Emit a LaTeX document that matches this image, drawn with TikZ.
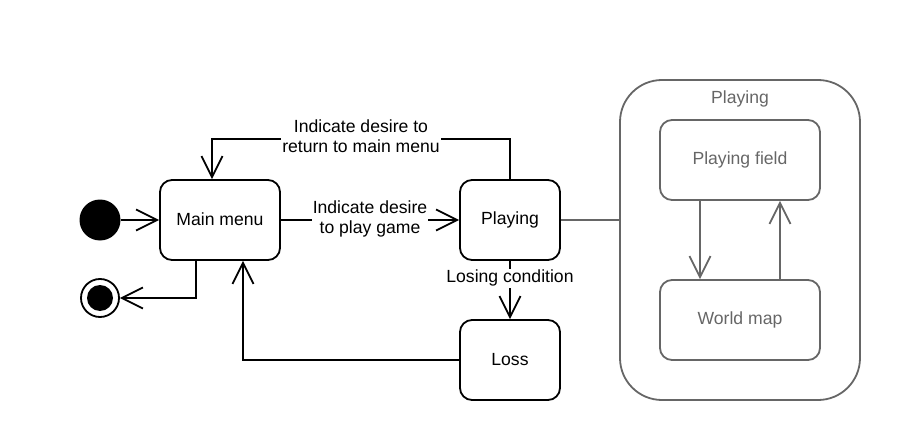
\documentclass[tikz,border=0pt]{standalone}
\usepackage{fontspec}
\setmainfont{Liberation Sans}
\usetikzlibrary{arrows.meta,positioning}
\definecolor{gline}{RGB}{102,102,102}
\begin{document}
\begin{tikzpicture}[x=1pt,y=1pt,
  every node/.style={font=\fontsize{17.6}{20}\selectfont},
  state/.style={draw=black,line width=1.8pt,rounded corners=12pt,minimum width=120pt,minimum height=80pt,inner sep=0pt,fill=white},
  gstate/.style={draw=gline,line width=1.8pt,rounded corners=12pt,minimum width=160pt,minimum height=80pt,inner sep=0pt,text=gline},
  conn/.style={line width=1.8pt,-{Straight Barb[length=21pt,width=21pt,line width=1.8pt]}},
  gconn/.style={conn,draw=gline},
  lbl/.style={fill=white,align=center,inner sep=1pt}]
\useasboundingbox (0,0) rectangle (900,440);
% nodes
\node[circle,fill=black,minimum size=41pt,inner sep=0pt] (init) at (100,220) {};
\node[circle,draw=black,line width=1.8pt,minimum size=38pt,inner sep=0pt] (final) at (100,142) {};
\node[circle,fill=black,minimum size=26pt,inner sep=0pt] (finalin) at (100,142) {};
\node[state] (main) at (220,220) {\raisebox{2pt}{Main menu}};
\node[state,minimum width=100pt] (play) at (510,220) {\raisebox{2pt}{Playing}};
\node[state,minimum width=100pt] (loss) at (510,80) {\raisebox{2pt}{Loss}};
\node[draw=gline,line width=1.8pt,rounded corners=42pt,minimum width=240pt,minimum height=320pt,inner sep=0pt] (comp) at (740,200) {};
\node[text=gline,anchor=center] (comptitle) at ([yshift=-20pt]comp.north) {Playing};
\node[gstate] (pf) at (740,280) {\raisebox{2pt}{Playing field}};
\node[gstate] (wm) at (740,120) {\raisebox{2pt}{World map}};
% connectors
\draw[conn] (init) -- (main);
\draw[conn] ([xshift=-24pt]main.south) |- (final.east);
\draw[conn] (main) -- node[lbl,yshift=1pt] {Indicate desire\\to play game} (play);
\draw[conn] (play.north) -- ++(0,40) -| node[lbl,pos=0.25,yshift=3pt] {Indicate desire to\\return to main menu} ([xshift=-8pt]main.north);
\draw[conn] (play.south) -- node[lbl,pos=0.3] {Losing condition} (loss.north);
\draw[conn] (loss.west) -| ([xshift=23pt]main.south);
\draw[draw=gline,line width=1.8pt] (play.east) -- (play.east -| comp.west);
\draw[gconn] ([xshift=-40pt]pf.south) -- ([xshift=-40pt]wm.north);
\draw[gconn] ([xshift=40pt]wm.north) -- ([xshift=40pt]pf.south);
\end{tikzpicture}
\end{document}
